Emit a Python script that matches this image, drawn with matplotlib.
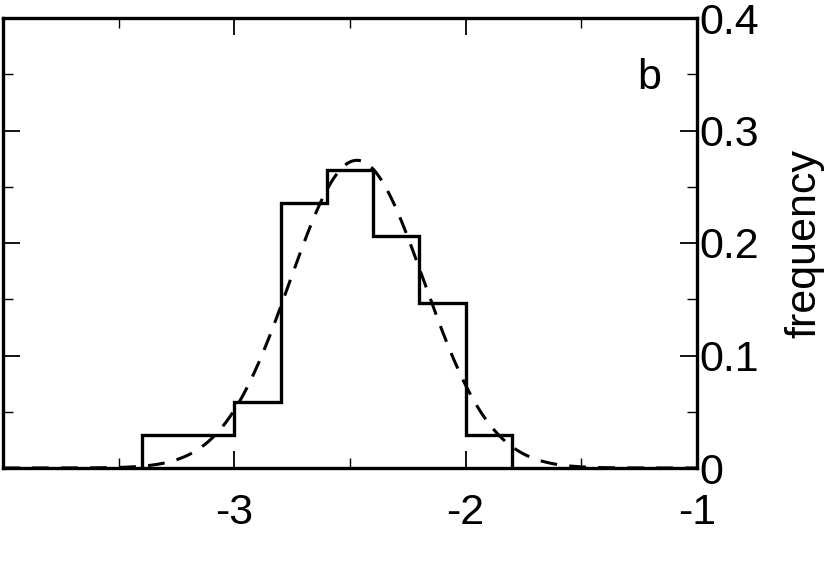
import numpy as np
import matplotlib
matplotlib.use("Agg")
import matplotlib.pyplot as plt
from matplotlib.ticker import MultipleLocator

plt.rcParams['font.family'] = ['Liberation Sans', 'DejaVu Sans']
plt.rcParams['axes.unicode_minus'] = False

# Histogram data: bin edges and frequencies
bin_edges = [-3.4, -3.2, -3.0, -2.8, -2.6, -2.4, -2.2, -2.0, -1.8]
frequencies = [1/34, 1/34, 2/34, 8/34, 9/34, 7/34, 5/34, 1/34]

# Gaussian fit parameters (dashed curve)
fit_mean = -2.47
fit_sigma = 0.29
fit_peak = 0.2735

x_ticks = [-4, -3, -2, -1]
x_tick_labels = ['', '-3', '-2', '-1']
y_ticks = [0, 0.1, 0.2, 0.3, 0.4]
y_tick_labels = ['0', '0.1', '0.2', '0.3', '0.4']

fig = plt.figure(figsize=(8.30, 5.86), dpi=100)
ax = fig.add_axes([3/830, 1 - 468/586, 694/830, 450/586])

# step histogram
xs = [bin_edges[0]]
ys = [0]
for i, f in enumerate(frequencies):
    xs += [bin_edges[i], bin_edges[i+1]]
    ys += [f, f]
xs.append(bin_edges[-1])
ys.append(0)
ax.plot(xs, ys, color='black', lw=2.4, solid_joinstyle='miter')

xf = np.linspace(-4, -1, 400)
yf = fit_peak * np.exp(-0.5 * ((xf - fit_mean) / fit_sigma) ** 2)
ax.plot(xf, yf, color='black', lw=2.2, dashes=(5.5, 4))

ax.set_xlim(-4, -1)
ax.set_ylim(0, 0.4)

for s in ax.spines.values():
    s.set_linewidth(2.4)

ax.set_xticks(x_ticks)
ax.set_xticklabels(x_tick_labels)
ax.xaxis.set_minor_locator(MultipleLocator(0.5))
ax.set_yticks(y_ticks)
ax.set_yticklabels(y_tick_labels)
ax.yaxis.set_minor_locator(MultipleLocator(0.05))

ax.tick_params(axis='both', which='both', direction='in', top=True, bottom=True,
               left=True, right=True, labelleft=False, labelright=True,
               labelsize=31, color='black')
ax.tick_params(axis='both', which='major', length=12, width=1.3)
ax.tick_params(axis='both', which='minor', length=7, width=1.0)
ax.tick_params(axis='x', which='major', pad=18)
ax.tick_params(axis='y', which='major', pad=2)

ax.yaxis.set_label_position('right')
ax.set_ylabel('frequency', fontsize=31, labelpad=18)

ax.text(-1.207, 0.347, 'b', fontsize=31, ha='center', va='center')

fig.savefig('out.png', dpi=100)
